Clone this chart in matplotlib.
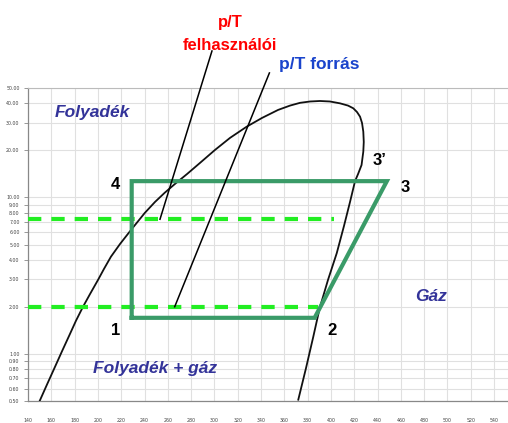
import numpy as np
import matplotlib.pyplot as plt
from matplotlib.ticker import FixedLocator, FormatStrFormatter, NullLocator

# saturation dome (enthalpy kJ/kg, pressure bar)
dome_h = [150.0, 156.3, 162.9, 169.2, 175.8, 181.2, 187.2, 193.2, 200.1, 205.2,
          211.2, 219.0, 228.4, 240.2, 249.0, 257.3, 266.2, 276.5, 287.6, 300.5,
          313.4, 327.7, 340.9, 354.6, 364.9, 373.5, 382.1, 390.6, 399.2, 407.8,
          414.7, 419.2, 422.4, 425.0, 426.7, 427.8, 428.2, 427.8, 426.3, 423.3,
          420.7, 416.4, 411.2, 405.0, 397.5, 390.6, 388.1, 384.9, 378.6, 372.0]
dome_p = [0.50, 0.637, 0.818, 1.04, 1.33, 1.63, 2.00, 2.41, 2.97, 3.49,
          4.18, 5.04, 6.19, 7.95, 9.35, 10.7, 12.2, 14.1, 16.6, 20.1,
          24.0, 28.3, 32.2, 36.2, 38.6, 40.2, 41.0, 41.3, 41.0, 39.9,
          38.6, 37.1, 35.1, 32.8, 29.9, 26.3, 22.6, 19.6, 16.1, 14.1,
          12.7, 9.35, 6.56, 4.40, 2.97, 1.99, 1.65, 1.29, 0.81, 0.51]

# refrigeration cycle 1-2-3-4
cycle_h = [229, 386, 448, 229, 229]
cycle_p = [1.70, 1.70, 12.7, 12.7, 1.70]

# source / user pressure levels
p_source = 2.0
p_user = 7.25
source_h_end = 389
user_h_end = 403

# leader lines from the labels above the chart
user_leader_h = [297.9, 253.3]
user_leader_p = [86.2, p_user]
source_leader_h = [347.2, 265.9]
source_leader_p = [62.4, p_source]

y_ticks = [0.5, 0.6, 0.7, 0.8, 0.9, 1, 2, 3, 4, 5, 6, 7, 8, 9, 10, 20, 30, 40, 50]
x_ticks = list(range(140, 541, 20))

fig = plt.figure(figsize=(5.08, 4.23), dpi=100)
ax = fig.add_axes([28 / 508, 22 / 423, 1 - 28 / 508, 313 / 423])
ax.set_yscale('log')
ax.set_xlim(140, 552)
ax.set_ylim(0.5, 50)

ax.yaxis.set_major_locator(FixedLocator(y_ticks))
ax.yaxis.set_minor_locator(NullLocator())
ax.yaxis.set_major_formatter(FormatStrFormatter('%.2f'))
ax.xaxis.set_major_locator(FixedLocator(x_ticks))
ax.xaxis.set_major_formatter(FormatStrFormatter('%d'))
ax.tick_params(axis='y', labelsize=3.4, length=3, width=0.6, color='#888888',
               pad=3, labelcolor='#444444')
ax.tick_params(axis='x', labelsize=3.4, length=0, pad=12, labelcolor='#444444')
ax.grid(True, color='#e0e0e0', lw=0.8)
ax.set_axisbelow(True)
for s in ['left', 'bottom']:
    ax.spines[s].set_color('#888888')
    ax.spines[s].set_linewidth(0.9)
ax.spines['top'].set_color('#bbbbbb')
ax.spines['right'].set_visible(False)

ax.plot(dome_h, dome_p, color='#111111', lw=1.3, zorder=3)

ax.plot([140, user_h_end], [p_user, p_user], color='#22ee22', lw=3,
        dashes=(3.2, 2.4), zorder=4)
ax.plot([140, source_h_end], [p_source, p_source], color='#22ee22', lw=3,
        dashes=(3.2, 2.4), zorder=4)

ax.plot(cycle_h, cycle_p, color='#3a9b68', lw=3, solid_joinstyle='miter', zorder=5)

ax.plot(user_leader_h, user_leader_p, color='black', lw=1.1, clip_on=False, zorder=6)
ax.plot(source_leader_h, source_leader_p, color='black', lw=1.1, clip_on=False, zorder=6)

region_style = dict(color='#333399', fontsize=12.5, fontweight='bold', style='italic',
                    family='Liberation Sans', va='center', ha='left')
ax.text(163, 35.1, 'Folyadék', **region_style)
ax.text(196, 0.81, 'Folyadék + gáz', **region_style)
ax.text(472, 2.34, 'Gáz', **region_style)

num_style = dict(color='black', fontsize=12, fontweight='bold',
                 family='Liberation Sans', va='center', ha='center')
ax.text(215, 12.0, '4', **num_style)
ax.text(215, 1.42, '1', **num_style)
ax.text(400.7, 1.42, '2', **num_style)
ax.text(463.6, 11.6, '3', **num_style)
ax.text(441.5, 17.3, '3’', **num_style)

fig.text(230 / 508, 1 - 23 / 423, 'p/T', color='red', fontsize=12, fontweight='bold',
         family='Liberation Sans', ha='center', va='center')
fig.text(230 / 508, 1 - 45 / 423, 'felhasználói', color='red', fontsize=12,
         fontweight='bold', family='Liberation Sans', ha='center', va='center')
fig.text(319 / 508, 1 - 64 / 423, 'p/T forrás', color='#1a44cc', fontsize=12.5,
         fontweight='bold', family='Liberation Sans', ha='center', va='center')

fig.savefig('out.png', dpi=100)
